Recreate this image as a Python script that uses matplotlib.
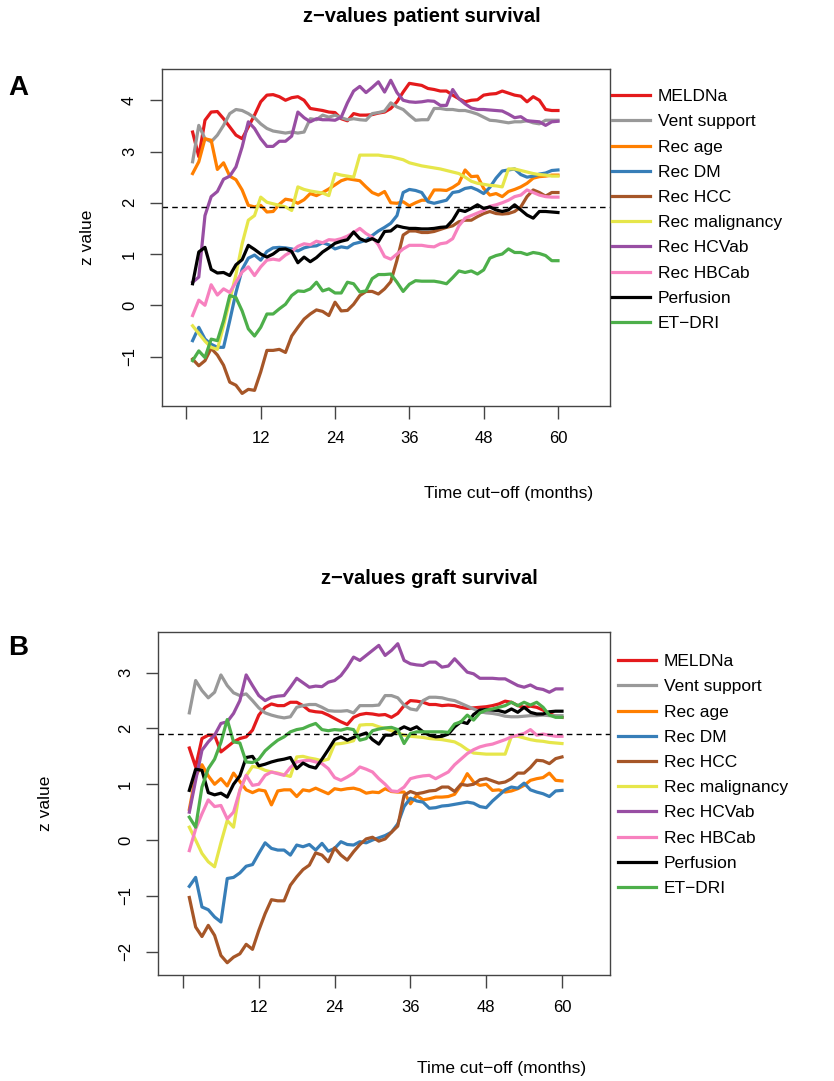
import numpy as np
import matplotlib.pyplot as plt

plt.rcParams['font.family'] = ['Liberation Sans', 'DejaVu Sans']

months = np.arange(1, 61)
labels = ['MELDNa', 'Vent support', 'Rec age', 'Rec DM', 'Rec HCC',
          'Rec malignancy', 'Rec HCVab', 'Rec HBCab', 'Perfusion', 'ET\u2212DRI']
colors = ['#E41A1C', '#999999', '#FF7F00', '#377EB8', '#A65628',
          '#E6E64A', '#984EA3', '#F781BF', '#000000', '#4DAF4A']

# ---- panel A: patient survival ----
a_meldna = [3.38, 2.90, 3.61, 3.77, 3.78, 3.64, 3.48, 3.32, 3.25, 3.48,
            3.71, 3.97, 4.10, 4.11, 4.07, 4.00, 4.05, 4.07, 4.00, 3.84,
            3.82, 3.80, 3.77, 3.76, 3.64, 3.60, 3.74, 3.71, 3.71, 3.72,
            3.75, 3.77, 3.84, 3.97, 4.16, 4.33, 4.31, 4.29, 4.23, 4.21,
            4.18, 4.18, 4.10, 4.03, 3.97, 4.00, 4.01, 4.10, 4.12, 4.13,
            4.18, 4.14, 4.10, 4.08, 3.97, 4.07, 4.00, 3.82, 3.80, 3.80]
a_vent = [2.80, 3.51, 3.25, 3.19, 3.32, 3.51, 3.74, 3.82, 3.80, 3.74,
          3.66, 3.54, 3.45, 3.40, 3.38, 3.36, 3.38, 3.36, 3.38, 3.64,
          3.62, 3.71, 3.67, 3.71, 3.66, 3.62, 3.64, 3.62, 3.61, 3.74,
          3.76, 3.79, 3.95, 3.87, 3.82, 3.71, 3.61, 3.62, 3.62, 3.84,
          3.84, 3.82, 3.82, 3.80, 3.80, 3.77, 3.73, 3.67, 3.61, 3.60,
          3.58, 3.56, 3.58, 3.58, 3.60, 3.56, 3.54, 3.61, 3.61, 3.61]
a_age = [2.57, 2.80, 3.25, 3.22, 2.65, 2.78, 2.52, 2.45, 2.25, 1.95,
         1.92, 1.95, 1.82, 1.83, 1.97, 2.07, 2.05, 1.99, 2.06, 2.18,
         2.14, 2.20, 2.27, 2.35, 2.43, 2.47, 2.45, 2.43, 2.31, 2.20,
         2.15, 2.22, 2.00, 1.99, 2.02, 1.94, 2.00, 2.05, 2.05, 2.25,
         2.25, 2.24, 2.30, 2.38, 2.64, 2.51, 2.52, 2.28, 2.15, 2.18,
         2.12, 2.22, 2.26, 2.31, 2.38, 2.48, 2.51, 2.52, 2.54, 2.54]
a_dm = [-0.69, -0.43, -0.66, -0.76, -0.82, -0.82, -0.30, 0.25, 0.70, 0.92,
        0.98, 0.88, 1.05, 1.12, 1.13, 1.12, 1.10, 1.06, 1.12, 1.15,
        1.16, 1.22, 1.18, 1.10, 1.14, 1.12, 1.20, 1.23, 1.27, 1.36,
        1.45, 1.52, 1.60, 1.75, 2.20, 2.26, 2.24, 2.20, 2.02, 1.99,
        2.02, 2.05, 2.20, 2.22, 2.28, 2.30, 2.25, 2.18, 2.30, 2.48,
        2.62, 2.64, 2.66, 2.55, 2.50, 2.52, 2.56, 2.58, 2.63, 2.64]
a_hcc = [-1.05, -1.18, -1.08, -0.84, -0.97, -1.17, -1.50, -1.56, -1.72, -1.64,
         -1.66, -1.30, -0.88, -0.88, -0.86, -0.92, -0.60, -0.43, -0.27, -0.17,
         -0.09, -0.12, -0.20, 0.06, -0.11, -0.10, 0.02, 0.19, 0.27, 0.27,
         0.22, 0.32, 0.46, 0.88, 1.37, 1.45, 1.45, 1.42, 1.42, 1.44,
         1.48, 1.52, 1.55, 1.63, 1.66, 1.66, 1.73, 1.79, 1.83, 1.79,
         1.78, 1.79, 1.83, 1.92, 2.12, 2.25, 2.20, 2.13, 2.20, 2.20]
a_malig = [-0.40, -0.55, -0.70, -0.82, -0.86, -0.40, 0.10, 0.60, 1.20, 1.66,
           1.75, 2.11, 2.01, 1.98, 1.95, 1.92, 1.85, 2.31, 2.26, 2.23,
           2.21, 2.19, 2.14, 2.57, 2.54, 2.52, 2.50, 2.93, 2.93, 2.93,
           2.93, 2.91, 2.90, 2.87, 2.84, 2.78, 2.75, 2.72, 2.70, 2.68,
           2.66, 2.63, 2.60, 2.57, 2.50, 2.42, 2.38, 2.36, 2.34, 2.33,
           2.31, 2.66, 2.66, 2.63, 2.60, 2.57, 2.55, 2.54, 2.52, 2.52]
a_hcv = [0.45, 0.55, 1.75, 2.12, 2.22, 2.46, 2.52, 2.70, 3.09, 3.58,
         3.45, 3.25, 3.10, 3.10, 3.20, 3.20, 3.30, 3.77, 3.66, 3.58,
         3.64, 3.62, 3.62, 3.61, 3.67, 3.95, 4.18, 4.27, 4.15, 4.25,
         4.36, 4.16, 4.39, 4.15, 4.00, 3.97, 3.96, 3.97, 3.99, 3.98,
         3.90, 3.90, 4.21, 4.03, 3.93, 3.85, 3.82, 3.82, 3.81, 3.80,
         3.79, 3.73, 3.66, 3.68, 3.60, 3.59, 3.58, 3.51, 3.58, 3.59]
a_hbc = [-0.20, 0.10, 0.00, 0.40, 0.20, 0.32, 0.25, 0.45, 0.65, 0.75,
         0.58, 0.75, 0.88, 0.90, 0.88, 0.98, 1.05, 1.15, 1.20, 1.18,
         1.25, 1.22, 1.28, 1.27, 1.30, 1.35, 1.42, 1.50, 1.40, 1.33,
         1.18, 0.95, 0.90, 1.00, 1.10, 1.17, 1.17, 1.17, 1.15, 1.14,
         1.20, 1.22, 1.30, 1.55, 1.70, 1.75, 1.80, 1.85, 1.93, 1.96,
         2.00, 2.05, 2.12, 2.15, 2.25, 2.20, 2.15, 2.12, 2.11, 2.11]
a_perf = [0.42, 1.04, 1.13, 0.70, 0.63, 0.64, 0.58, 0.79, 0.89, 1.17,
          1.09, 1.00, 0.94, 1.00, 1.09, 1.10, 1.05, 0.83, 0.94, 0.85,
          0.93, 1.04, 1.12, 1.21, 1.25, 1.28, 1.43, 1.30, 1.25, 1.30,
          1.24, 1.44, 1.45, 1.55, 1.52, 1.50, 1.50, 1.49, 1.49, 1.50,
          1.52, 1.53, 1.66, 1.86, 1.83, 1.89, 1.96, 1.89, 1.92, 1.86,
          1.83, 1.86, 1.96, 1.86, 1.76, 1.70, 1.83, 1.83, 1.82, 1.81]
a_etdri = [-1.08, -0.89, -1.02, -0.66, -0.69, -0.30, 0.19, 0.15, -0.11, -0.46,
           -0.60, -0.43, -0.17, -0.17, -0.07, 0.02, 0.19, 0.28, 0.27, 0.32,
           0.45, 0.28, 0.32, 0.24, 0.24, 0.45, 0.42, 0.26, 0.28, 0.52,
           0.60, 0.60, 0.61, 0.45, 0.27, 0.41, 0.48, 0.47, 0.47, 0.47,
           0.45, 0.42, 0.54, 0.67, 0.64, 0.67, 0.61, 0.69, 0.92, 0.97,
           1.00, 1.10, 1.03, 1.03, 0.99, 1.03, 1.01, 0.97, 0.87, 0.87]

# ---- panel B: graft survival ----
b_meldna = [1.65, 1.31, 1.82, 1.88, 1.88, 1.58, 1.67, 1.76, 1.82, 1.85,
            1.97, 2.24, 2.38, 2.44, 2.41, 2.41, 2.47, 2.47, 2.41, 2.32,
            2.30, 2.29, 2.24, 2.18, 2.12, 2.07, 2.20, 2.25, 2.27, 2.26,
            2.24, 2.25, 2.20, 2.27, 2.41, 2.50, 2.49, 2.47, 2.43, 2.43,
            2.41, 2.42, 2.41, 2.38, 2.36, 2.37, 2.38, 2.39, 2.41, 2.44,
            2.49, 2.47, 2.41, 2.38, 2.40, 2.38, 2.33, 2.27, 2.22, 2.20]
b_vent = [2.28, 2.86, 2.68, 2.55, 2.65, 2.96, 2.77, 2.64, 2.59, 2.62,
          2.50, 2.37, 2.28, 2.24, 2.21, 2.19, 2.21, 2.38, 2.41, 2.43,
          2.43, 2.38, 2.32, 2.31, 2.31, 2.32, 2.28, 2.41, 2.41, 2.41,
          2.42, 2.59, 2.59, 2.55, 2.42, 2.35, 2.33, 2.50, 2.56, 2.56,
          2.55, 2.52, 2.50, 2.45, 2.40, 2.35, 2.30, 2.28, 2.27, 2.25,
          2.22, 2.21, 2.21, 2.22, 2.23, 2.23, 2.24, 2.23, 2.23, 2.23]
b_age = [0.55, 1.15, 1.35, 1.15, 1.00, 1.10, 0.97, 1.20, 1.05, 0.90,
         0.85, 0.90, 0.88, 0.63, 0.88, 0.90, 0.90, 0.78, 0.90, 0.88,
         0.93, 0.88, 0.83, 0.92, 0.90, 0.92, 0.93, 0.90, 0.84, 0.86,
         0.85, 0.92, 0.87, 0.86, 0.86, 0.65, 0.80, 0.72, 0.74, 0.77,
         0.77, 0.78, 0.82, 0.98, 1.19, 1.04, 0.98, 1.00, 0.89, 0.90,
         0.86, 0.88, 0.92, 0.98, 1.07, 1.10, 1.12, 1.20, 1.07, 1.06]
b_dm = [-0.83, -0.67, -1.20, -1.25, -1.38, -1.47, -0.69, -0.67, -0.59, -0.47,
        -0.44, -0.24, -0.05, -0.15, -0.18, -0.18, -0.27, -0.09, -0.12, -0.08,
        -0.18, -0.06, -0.20, -0.15, -0.03, -0.08, -0.09, -0.03, -0.05, 0.00,
        0.04, 0.08, 0.14, 0.29, 0.60, 0.75, 0.70, 0.68, 0.57, 0.58,
        0.61, 0.62, 0.64, 0.66, 0.68, 0.66, 0.60, 0.58, 0.70, 0.80,
        0.90, 0.95, 0.93, 1.02, 0.90, 0.86, 0.83, 0.78, 0.88, 0.89]
b_hcc = [-1.03, -1.56, -1.73, -1.53, -1.71, -2.07, -2.20, -2.10, -2.04, -1.87,
         -1.96, -1.62, -1.32, -1.07, -1.09, -1.09, -0.81, -0.66, -0.53, -0.45,
         -0.23, -0.27, -0.39, -0.14, -0.27, -0.36, -0.21, -0.08, 0.02, 0.05,
         -0.02, 0.02, 0.14, 0.25, 0.80, 0.87, 0.83, 0.85, 0.88, 0.89,
         0.95, 0.95, 0.87, 1.00, 0.98, 1.00, 1.08, 1.10, 1.06, 1.02,
         1.04, 1.10, 1.20, 1.20, 1.30, 1.43, 1.42, 1.37, 1.46, 1.49]
b_malig = [0.23, 0.00, -0.24, -0.39, -0.48, -0.05, 0.35, 0.23, 0.90, 1.15,
           1.32, 1.30, 1.25, 1.22, 1.20, 1.17, 1.14, 1.49, 1.50, 1.47,
           1.45, 1.42, 1.45, 1.72, 1.73, 1.75, 1.78, 2.06, 2.07, 2.07,
           2.03, 2.00, 1.96, 1.92, 1.88, 1.86, 1.85, 1.84, 1.82, 1.81,
           1.80, 1.78, 1.76, 1.70, 1.62, 1.56, 1.55, 1.54, 1.54, 1.54,
           1.54, 1.86, 1.86, 1.83, 1.80, 1.78, 1.77, 1.75, 1.74, 1.73]
b_hcv = [0.50, 1.07, 1.61, 1.76, 1.88, 2.09, 2.12, 2.27, 2.50, 2.96,
         2.77, 2.59, 2.50, 2.56, 2.58, 2.59, 2.74, 2.90, 2.82, 2.74,
         2.76, 2.75, 2.83, 2.86, 2.95, 3.10, 3.28, 3.22, 3.31, 3.40,
         3.49, 3.31, 3.40, 3.52, 3.22, 3.16, 3.14, 3.13, 3.19, 3.19,
         3.10, 3.12, 3.25, 3.13, 3.01, 2.98, 2.90, 2.90, 2.90, 2.89,
         2.89, 2.83, 2.77, 2.74, 2.78, 2.72, 2.70, 2.65, 2.71, 2.71]
b_hbc = [-0.19, 0.20, 0.47, 0.72, 0.60, 0.62, 0.38, 0.50, 0.89, 1.16,
         0.98, 1.00, 1.16, 1.22, 1.19, 1.16, 1.30, 1.40, 1.42, 1.43,
         1.40, 1.37, 1.28, 1.12, 1.07, 1.13, 1.20, 1.31, 1.27, 1.22,
         1.10, 1.00, 0.88, 0.87, 0.95, 1.10, 1.13, 1.15, 1.16, 1.10,
         1.16, 1.22, 1.35, 1.45, 1.55, 1.62, 1.67, 1.70, 1.72, 1.76,
         1.80, 1.85, 1.88, 1.91, 1.98, 1.88, 1.90, 1.88, 1.86, 1.86]
b_perf = [0.89, 1.27, 1.25, 0.85, 0.81, 0.84, 0.77, 1.00, 1.15, 1.48,
          1.50, 1.33, 1.36, 1.40, 1.43, 1.45, 1.48, 1.28, 1.38, 1.32,
          1.29, 1.45, 1.62, 1.80, 1.85, 1.79, 1.84, 1.88, 1.92, 1.80,
          1.72, 1.88, 1.88, 1.97, 2.03, 1.98, 2.03, 1.94, 1.88, 1.85,
          1.86, 1.90, 2.03, 2.12, 2.09, 2.25, 2.33, 2.34, 2.33, 2.32,
          2.29, 2.35, 2.29, 2.38, 2.29, 2.26, 2.26, 2.30, 2.31, 2.31]
b_etdri = [0.41, 0.23, 0.95, 1.28, 1.45, 1.75, 2.16, 1.76, 1.74, 1.40,
           1.39, 1.45, 1.60, 1.70, 1.79, 1.85, 1.94, 1.98, 2.00, 2.05,
           2.09, 1.98, 1.96, 1.98, 1.97, 2.00, 1.98, 1.79, 1.82, 1.96,
           1.99, 2.01, 2.02, 1.98, 1.73, 1.91, 1.94, 1.94, 1.94, 1.94,
           1.94, 1.93, 2.08, 2.12, 2.24, 2.15, 2.28, 2.33, 2.35, 2.38,
           2.41, 2.47, 2.41, 2.47, 2.42, 2.47, 2.38, 2.24, 2.20, 2.20]

a_series = [a_meldna, a_vent, a_age, a_dm, a_hcc, a_malig, a_hcv, a_hbc, a_perf, a_etdri]
b_series = [b_meldna, b_vent, b_age, b_dm, b_hcc, b_malig, b_hcv, b_hbc, b_perf, b_etdri]
z_crit = 1.91

W, H = 834, 1081
fig = plt.figure(figsize=(W / 100, H / 100), dpi=100)


def px_axes(left, top, right, bottom):
    return fig.add_axes([left / W, 1 - bottom / H, (right - left) / W, (bottom - top) / H])


def draw_panel(ax, series, xlim, ylim, yticks, title, letter, title_xy, letter_xy,
               xlab_y, ylab_x, leg_xy):
    for vals, lab, col in zip(series, labels, colors):
        ax.plot(months, vals, color=col, lw=2.3, label=lab, solid_joinstyle='round')
    ax.axhline(z_crit, color='black', lw=1.0, ls=(0, (4, 3)))
    ax.set_xlim(*xlim)
    ax.set_ylim(*ylim)
    ax.set_xticks([0, 12, 24, 36, 48, 60])
    ax.set_xticklabels(['', '12', '24', '36', '48', '60'])
    ax.set_yticks(yticks)
    ax.tick_params(length=9, width=1.0, color='#444444', labelsize=12, pad=9)
    for lab in ax.get_yticklabels():
        lab.set_rotation(90)
        lab.set_va('center')
    for s in ax.spines.values():
        s.set_color('#444444')
        s.set_linewidth(1.0)
    fig.text(title_xy[0] / W, 1 - title_xy[1] / H, title, ha='center', va='center',
             fontsize=14.5, fontweight='bold')
    fig.text(letter_xy[0] / W, 1 - letter_xy[1] / H, letter, ha='center', va='center',
             fontsize=20, fontweight='bold')
    fig.text(xlab_y[0] / W, 1 - xlab_y[1] / H, 'Time cut\u2212off (months)', ha='center',
             va='center', fontsize=12.5)
    fig.text(ylab_x[0] / W, 1 - ylab_x[1] / H, 'z value', ha='center', va='center',
             rotation=90, fontsize=12.5)
    ax.legend(loc='upper left', bbox_to_anchor=(leg_xy[0] / W, 1 - leg_xy[1] / H),
              bbox_transform=fig.transFigure, frameon=False, fontsize=12.5,
              borderpad=0, borderaxespad=0, handlelength=2.2, handletextpad=0.45,
              labelspacing=0.58)


axA = px_axes(162, 69, 610, 406)
draw_panel(axA, a_series, (-3.94, 68.4), (-1.965, 4.61), [-1, 0, 1, 2, 3, 4],
           'z\u2212values patient survival', 'A', (422, 17), (18, 88),
           (509, 493), (88, 237), (612, 89))

axB = px_axes(158, 632, 610, 975)
draw_panel(axB, b_series, (-3.96, 67.6), (-2.42, 3.73), [-2, -1, 0, 1, 2, 3],
           'z\u2212values graft survival', 'B', (429, 578), (18, 648),
           (502, 1068), (45, 803), (618, 654))

fig.savefig('out.png', dpi=100)
